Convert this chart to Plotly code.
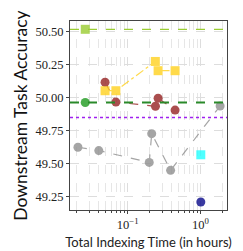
import plotly.graph_objects as go

# Gray series (circles, dashed)
gray_x = [0.0208, 0.0402, 0.198, 0.214, 0.389, 1.86]
gray_y = [49.625, 49.60, 49.51, 49.728, 49.45, 49.938]

# Red series (circles, dashed)
red_x = [0.049, 0.069, 0.241, 0.262, 0.448]
red_y = [50.118, 49.968, 49.936, 49.997, 49.907]

# Yellow series (squares, dash-dot)
yellow_x = [0.049, 0.069, 0.240, 0.262, 0.448]
yellow_y = [50.054, 50.054, 50.276, 50.206, 50.206]

# Single points
lightgreen_x, lightgreen_y = [0.0262], [50.52]
green_x, green_y = [0.0262], [49.965]
cyan_x, cyan_y = [1.01], [49.568]
navy_x, navy_y = [1.01], [49.21]

# Reference lines
purple_ref = 49.85

x_tickvals = [0.1, 1]
x_ticktext = ["10<sup>−1</sup>", "10<sup>0</sup>"]
y_tickvals = [49.25, 49.50, 49.75, 50.00, 50.25, 50.50]
y_ticktext = ["49.25", "49.50", "49.75", "50.00", "50.25", "50.50"]
minor_vals = [0.02, 0.03, 0.04, 0.05, 0.06, 0.07, 0.08, 0.09,
              0.2, 0.3, 0.4, 0.5, 0.6, 0.7, 0.8, 0.9, 2]

fig = go.Figure()

def line_trace(x, y, color, dash, symbol, msize=9):
    fig.add_trace(go.Scatter(
        x=x, y=y, mode="lines+markers",
        line=dict(color=color, dash=dash, width=1.2),
        marker=dict(color=color, symbol=symbol, size=msize, opacity=1),
        opacity=0.8, showlegend=False))

# horizontal reference lines (from the single points)
fig.add_hline(y=lightgreen_y[0], line=dict(color="#9acd32", dash="dash", width=1.2))
fig.add_hline(y=green_y[0], line=dict(color="#2a8a2a", dash="dash", width=2))
fig.add_hline(y=purple_ref, line=dict(color="#a020f0", dash="dot", width=1.5))

line_trace(gray_x, gray_y, "#8f8f8f", "dash", "circle")
line_trace(red_x, red_y, "#962222", "dash", "circle")
line_trace(yellow_x, yellow_y, "#ffd21f", "dashdot", "square")

def pt(x, y, color, symbol):
    fig.add_trace(go.Scatter(x=x, y=y, mode="markers",
                             marker=dict(color=color, symbol=symbol, size=9),
                             opacity=0.8, showlegend=False))

pt(lightgreen_x, lightgreen_y, "#9acd32", "square")
pt(green_x, green_y, "#1f9a1f", "circle")
pt(cyan_x, cyan_y, "#22ffff", "square")
pt(navy_x, navy_y, "#0a0a8a", "circle")

fig.update_layout(
    width=243, height=251,
    margin=dict(l=61, r=24, t=12, b=44),
    plot_bgcolor="white", paper_bgcolor="white",
)
fig.update_xaxes(
    type="log", range=[-1.791, 0.364],
    tickvals=x_tickvals, ticktext=x_ticktext,
    tickfont=dict(family="Liberation Serif", size=12.5, color="#222"),
    showgrid=True, gridcolor="#dddddd", griddash="dash", gridwidth=1,
    minor=dict(tickvals=minor_vals, showgrid=True, gridcolor="#e6e6e6",
               griddash="dash", ticks="outside", ticklen=2, tickcolor="#444"),
    ticks="outside", ticklen=3, tickcolor="#444",
    showline=True, linecolor="#444", linewidth=1, mirror=True,
    zeroline=False,
    title=dict(text="Total Indexing Time (in hours)",
               font=dict(family="Lato", size=13, color="#222"), standoff=6),
)
fig.update_yaxes(
    range=[49.149, 50.583],
    tickvals=y_tickvals, ticktext=y_ticktext,
    tickfont=dict(family="Liberation Serif", size=12.5, color="#222"),
    showgrid=True, gridcolor="#dddddd", griddash="dash", gridwidth=1,
    ticks="outside", ticklen=3, tickcolor="#444",
    showline=True, linecolor="#444", linewidth=1, mirror=True,
    zeroline=False,
    title=dict(text="Downstream Task Accuracy",
               font=dict(family="Lato", size=17.5, color="#111"), standoff=3),
)

fig.write_html("out.html")
